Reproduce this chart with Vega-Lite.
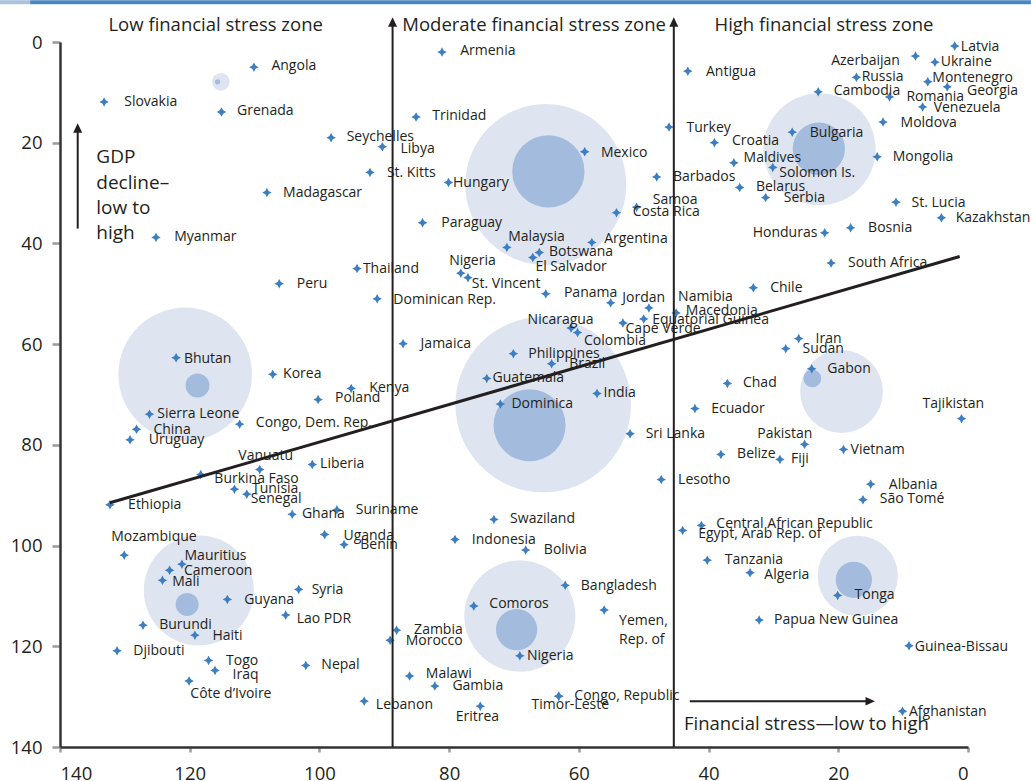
{
  "$schema": "https://vega.github.io/schema/vega-lite/v6.json",
  "width": 908,
  "height": 705,
  "autosize": {"type": "none"},
  "padding": {"left": 60, "top": 42, "right": 63, "bottom": 34},
  "background": "white",
  "config": {
    "view": {"stroke": null},
    "font": "Open Sans",
    "axisX": {"domainColor": "#333333", "domainWidth": 2.5, "tickColor": "#9a9a9a", "tickWidth": 2.5, "tickSize": 5, "labelFontSize": 18.5, "labelPadding": 12, "labelColor": "#231f20", "labelFont": "Open Sans", "grid": false},
    "axisY": {"domainColor": "#333333", "domainWidth": 2.5, "tickColor": "#9a9a9a", "tickWidth": 2.5, "tickSize": 8, "labelFontSize": 18.5, "labelPadding": 10, "labelColor": "#231f20", "labelFont": "Open Sans", "grid": false}
  },
  "datasets": {
    "band": [
      {"part": "light", "x1": 149.3, "x2": 144.6, "y1": -8.3, "y2": -7.5},
      {"part": "dark", "x1": 144.6, "x2": -9.7, "y1": -8.3, "y2": -7.5}
    ],
    "bubbles": [
      {"group": "Angola", "kind": "outer", "x": 115.2, "y": 7.9, "r": 1.54},
      {"group": "Mexico", "kind": "outer", "x": 65.1, "y": 28.3, "r": 14.0},
      {"group": "Bulgaria", "kind": "outer", "x": 22.9, "y": 21.3, "r": 9.76},
      {"group": "Bhutan", "kind": "outer", "x": 120.7, "y": 66.0, "r": 11.61},
      {"group": "Dominica", "kind": "outer", "x": 65.5, "y": 72.0, "r": 15.26},
      {"group": "Gabon", "kind": "outer", "x": 19.5, "y": 69.4, "r": 7.2},
      {"group": "Mali", "kind": "outer", "x": 118.6, "y": 108.9, "r": 9.56},
      {"group": "Comoros", "kind": "outer", "x": 69.1, "y": 114.0, "r": 9.66},
      {"group": "Tonga", "kind": "outer", "x": 17.0, "y": 106.0, "r": 6.98},
      {"group": "Angola", "kind": "inner", "x": 115.7, "y": 7.9, "r": 0.46},
      {"group": "Mexico", "kind": "inner", "x": 64.7, "y": 25.7, "r": 6.29},
      {"group": "Bulgaria", "kind": "inner", "x": 23.0, "y": 21.2, "r": 4.55},
      {"group": "Bhutan", "kind": "inner", "x": 118.8, "y": 68.2, "r": 2.08},
      {"group": "Dominica", "kind": "inner", "x": 67.6, "y": 76.1, "r": 6.27},
      {"group": "Gabon", "kind": "inner", "x": 24.0, "y": 66.8, "r": 1.54},
      {"group": "Mali", "kind": "inner", "x": 120.4, "y": 111.7, "r": 2.0},
      {"group": "Comoros", "kind": "inner", "x": 69.6, "y": 116.7, "r": 3.59},
      {"group": "Tonga", "kind": "inner", "x": 17.6, "y": 106.8, "r": 3.16}
    ],
    "lines": [
      {"name": "trend", "x": 132.3, "y": 91.5, "x2": 1.28, "y2": 42.6, "w": "thick"},
      {"name": "moderate", "x": 88.72, "y": 140, "x2": 88.72, "y2": -3.95, "w": "thin"},
      {"name": "high", "x": 45.36, "y": 140, "x2": 45.36, "y2": -3.95, "w": "thin"},
      {"name": "gdp", "x": 137.27, "y": 37.05, "x2": 137.27, "y2": 17.1, "w": "thin"},
      {"name": "stress", "x": 42.9, "y": 130.92, "x2": 15.07, "y2": 130.92, "w": "thin"}
    ],
    "heads": [
      {"name": "moderate", "x": 88.72, "y": -3.95, "dir": "up"},
      {"name": "high", "x": 45.36, "y": -3.95, "dir": "up"},
      {"name": "gdp", "x": 137.27, "y": 17.1, "dir": "up"},
      {"name": "stress", "x": 15.07, "y": 130.92, "dir": "right"}
    ],
    "notes": [
      {"text": "Low financial stress zone", "x": 116.0, "y": -2.2, "align": "center"},
      {"text": "Moderate financial stress zone", "x": 66.9, "y": -2.2, "align": "center"},
      {"text": "High financial stress zone", "x": 22.2, "y": -2.2, "align": "center"},
      {"text": "Financial stress—low to high", "x": 43.8, "y": 136.7, "align": "left"}
    ],
    "gdp": [
      {"text": "GDP\ndecline–\nlow to\nhigh", "x": 134.4, "y": 24.1}
    ],
    "countries": [
      {"c": "Angola", "x": 110.1, "y": 5.0, "lx": 107.4, "ly": 4.8},
      {"c": "Slovakia", "x": 133.2, "y": 11.9, "lx": 130.1, "ly": 11.9},
      {"c": "Grenada", "x": 115.1, "y": 13.9, "lx": 112.7, "ly": 13.8},
      {"c": "Seychelles", "x": 98.2, "y": 19.0, "lx": 95.8, "ly": 18.9},
      {"c": "Libya", "x": 90.3, "y": 20.8, "lx": 87.5, "ly": 21.2},
      {"c": "Madagascar", "x": 108.1, "y": 29.9, "lx": 105.6, "ly": 29.9},
      {"c": "St. Kitts", "x": 92.2, "y": 25.9, "lx": 89.6, "ly": 26.0},
      {"c": "Myanmar", "x": 125.2, "y": 38.8, "lx": 122.4, "ly": 38.8},
      {"c": "Armenia", "x": 81.1, "y": 2.0, "lx": 78.3, "ly": 1.8},
      {"c": "Trinidad", "x": 85.1, "y": 14.9, "lx": 82.6, "ly": 14.7},
      {"c": "Hungary", "x": 80.1, "y": 27.9, "lx": 79.4, "ly": 28.0},
      {"c": "Paraguay", "x": 84.1, "y": 35.9, "lx": 81.2, "ly": 35.9},
      {"c": "Mexico", "x": 59.1, "y": 21.8, "lx": 56.6, "ly": 22.0},
      {"c": "Malaysia", "x": 71.1, "y": 40.8, "lx": 70.9, "ly": 38.8},
      {"c": "Botswana", "x": 66.1, "y": 41.8, "lx": 64.6, "ly": 41.8},
      {"c": "El Salvador", "x": 67.1, "y": 42.8, "lx": 66.7, "ly": 44.7},
      {"c": "Argentina", "x": 58.0, "y": 39.8, "lx": 56.1, "ly": 39.2},
      {"c": "Costa Rica", "x": 54.2, "y": 33.9, "lx": 51.7, "ly": 33.8},
      {"c": "Samoa", "x": 51.1, "y": 32.8, "lx": 48.6, "ly": 31.3},
      {"c": "Barbados", "x": 48.0, "y": 26.8, "lx": 45.5, "ly": 26.8},
      {"c": "Turkey", "x": 46.1, "y": 16.9, "lx": 43.4, "ly": 17.0},
      {"c": "Antigua", "x": 43.2, "y": 5.8, "lx": 40.4, "ly": 6.0},
      {"c": "Latvia", "x": 2.05, "y": 0.8, "lx": 1.1, "ly": 1.0},
      {"c": "Azerbaijan", "x": 8.1, "y": 2.8, "lx": 21.1, "ly": 3.8},
      {"c": "Ukraine", "x": 5.1, "y": 4.0, "lx": 4.2, "ly": 4.0},
      {"c": "Russia", "x": 17.2, "y": 7.0, "lx": 16.4, "ly": 6.9},
      {"c": "Montenegro", "x": 6.2, "y": 7.9, "lx": 5.5, "ly": 7.1},
      {"c": "Georgia", "x": 3.2, "y": 8.9, "lx": 0.15, "ly": 9.7},
      {"c": "Cambodia", "x": 23.1, "y": 9.9, "lx": 20.7, "ly": 9.7},
      {"c": "Romania", "x": 12.1, "y": 10.9, "lx": 9.5, "ly": 11.0},
      {"c": "Venezuela", "x": 7.0, "y": 12.9, "lx": 5.3, "ly": 13.1},
      {"c": "Moldova", "x": 13.1, "y": 15.9, "lx": 10.4, "ly": 16.0},
      {"c": "Bulgaria", "x": 27.1, "y": 17.9, "lx": 24.4, "ly": 18.0},
      {"c": "Croatia", "x": 39.1, "y": 20.0, "lx": 36.4, "ly": 19.7},
      {"c": "Mongolia", "x": 14.0, "y": 22.8, "lx": 11.6, "ly": 22.8},
      {"c": "Maldives", "x": 36.1, "y": 24.0, "lx": 34.6, "ly": 23.0},
      {"c": "Solomon Is.", "x": 30.1, "y": 24.9, "lx": 29.1, "ly": 26.1},
      {"c": "Belarus", "x": 35.2, "y": 28.9, "lx": 32.7, "ly": 28.8},
      {"c": "Serbia", "x": 31.2, "y": 30.9, "lx": 28.4, "ly": 31.0},
      {"c": "St. Lucia", "x": 11.1, "y": 31.8, "lx": 8.7, "ly": 32.0},
      {"c": "Kazakhstan", "x": 4.1, "y": 34.9, "lx": 1.9, "ly": 34.9},
      {"c": "Bosnia", "x": 18.1, "y": 36.9, "lx": 15.4, "ly": 36.9},
      {"c": "Honduras", "x": 22.1, "y": 37.9, "lx": 33.2, "ly": 37.9},
      {"c": "Peru", "x": 106.2, "y": 48.0, "lx": 103.5, "ly": 48.0},
      {"c": "Bhutan", "x": 122.1, "y": 62.7, "lx": 120.9, "ly": 63.0},
      {"c": "Korea", "x": 107.2, "y": 66.0, "lx": 105.6, "ly": 66.0},
      {"c": "Poland", "x": 100.2, "y": 71.0, "lx": 97.6, "ly": 70.6},
      {"c": "Kenya", "x": 95.1, "y": 68.8, "lx": 92.3, "ly": 68.8},
      {"c": "Sierra Leone", "x": 126.2, "y": 73.9, "lx": 125.0, "ly": 73.9},
      {"c": "Congo, Dem. Rep.", "x": 112.3, "y": 75.9, "lx": 109.8, "ly": 75.7},
      {"c": "China", "x": 128.2, "y": 76.9, "lx": 125.6, "ly": 77.1},
      {"c": "Uruguay", "x": 129.2, "y": 79.0, "lx": 126.3, "ly": 79.0},
      {"c": "Vanuatu", "x": 109.2, "y": 84.9, "lx": 112.5, "ly": 82.3},
      {"c": "Liberia", "x": 101.1, "y": 83.9, "lx": 99.9, "ly": 83.9},
      {"c": "Burkina Faso", "x": 118.3, "y": 85.9, "lx": 116.2, "ly": 86.7},
      {"c": "Tunisia", "x": 113.1, "y": 88.8, "lx": 110.4, "ly": 88.7},
      {"c": "Senegal", "x": 111.2, "y": 89.8, "lx": 110.6, "ly": 90.7},
      {"c": "Ethiopia", "x": 132.3, "y": 91.9, "lx": 129.5, "ly": 92.0},
      {"c": "Thailand", "x": 94.2, "y": 45.0, "lx": 93.3, "ly": 45.0},
      {"c": "Nigeria", "x": 78.2, "y": 45.9, "lx": 80.0, "ly": 43.5},
      {"c": "St. Vincent", "x": 77.1, "y": 46.8, "lx": 76.5, "ly": 48.1},
      {"c": "Panama", "x": 65.1, "y": 50.0, "lx": 62.3, "ly": 49.8},
      {"c": "Dominican Rep.", "x": 91.1, "y": 51.0, "lx": 88.6, "ly": 51.2},
      {"c": "Jordan", "x": 55.1, "y": 51.8, "lx": 53.3, "ly": 50.8},
      {"c": "Namibia", "x": 49.2, "y": 52.8, "lx": 44.7, "ly": 50.6},
      {"c": "Macedonia", "x": 45.0, "y": 53.8, "lx": 43.5, "ly": 53.5},
      {"c": "Equatorial Guinea", "x": 50.0, "y": 55.0, "lx": 48.7, "ly": 55.3},
      {"c": "Cape Verde", "x": 53.2, "y": 55.8, "lx": 52.8, "ly": 56.9},
      {"c": "Nicaragua", "x": 61.2, "y": 56.8, "lx": 67.9, "ly": 55.3},
      {"c": "Colombia", "x": 60.2, "y": 57.7, "lx": 59.2, "ly": 59.4},
      {"c": "Jamaica", "x": 87.1, "y": 59.9, "lx": 84.4, "ly": 59.9},
      {"c": "Philippines", "x": 70.1, "y": 61.9, "lx": 67.8, "ly": 62.0},
      {"c": "Brazil", "x": 64.2, "y": 63.9, "lx": 61.5, "ly": 63.9},
      {"c": "Guatemala", "x": 74.2, "y": 66.8, "lx": 73.3, "ly": 66.7},
      {"c": "India", "x": 57.2, "y": 69.8, "lx": 56.2, "ly": 69.8},
      {"c": "Dominica", "x": 72.1, "y": 71.9, "lx": 70.4, "ly": 71.9},
      {"c": "Sri Lanka", "x": 52.1, "y": 77.8, "lx": 49.7, "ly": 77.8},
      {"c": "Lesotho", "x": 47.3, "y": 86.9, "lx": 44.7, "ly": 86.9},
      {"c": "South Africa", "x": 21.1, "y": 43.9, "lx": 18.5, "ly": 43.9},
      {"c": "Chile", "x": 33.1, "y": 48.8, "lx": 30.5, "ly": 48.8},
      {"c": "Iran", "x": 26.1, "y": 58.9, "lx": 23.5, "ly": 58.9},
      {"c": "Sudan", "x": 28.1, "y": 60.9, "lx": 25.5, "ly": 60.9},
      {"c": "Gabon", "x": 24.1, "y": 64.9, "lx": 21.7, "ly": 64.9},
      {"c": "Chad", "x": 37.1, "y": 67.8, "lx": 34.7, "ly": 67.8},
      {"c": "Ecuador", "x": 42.1, "y": 72.8, "lx": 39.6, "ly": 72.9},
      {"c": "Tajikistan", "x": 1.0, "y": 74.8, "lx": 7.0, "ly": 71.9},
      {"c": "Pakistan", "x": 25.2, "y": 79.9, "lx": 32.5, "ly": 77.8},
      {"c": "Vietnam", "x": 19.2, "y": 80.9, "lx": 18.1, "ly": 81.1},
      {"c": "Belize", "x": 38.1, "y": 81.9, "lx": 35.6, "ly": 81.9},
      {"c": "Fiji", "x": 29.0, "y": 82.9, "lx": 27.3, "ly": 82.9},
      {"c": "Albania", "x": 15.0, "y": 87.8, "lx": 12.2, "ly": 88.0},
      {"c": "São Tomé", "x": 16.2, "y": 90.9, "lx": 13.6, "ly": 90.7},
      {"c": "Ghana", "x": 104.2, "y": 93.8, "lx": 102.7, "ly": 93.8},
      {"c": "Suriname", "x": 97.3, "y": 92.9, "lx": 94.4, "ly": 93.0},
      {"c": "Uganda", "x": 99.2, "y": 97.8, "lx": 96.3, "ly": 98.0},
      {"c": "Benin", "x": 96.2, "y": 99.8, "lx": 93.7, "ly": 99.8},
      {"c": "Mozambique", "x": 130.1, "y": 101.9, "lx": 132.1, "ly": 98.3},
      {"c": "Mauritius", "x": 121.2, "y": 103.7, "lx": 120.8, "ly": 102.1},
      {"c": "Cameroon", "x": 123.1, "y": 104.9, "lx": 120.9, "ly": 105.1},
      {"c": "Mali", "x": 124.2, "y": 106.9, "lx": 122.7, "ly": 107.2},
      {"c": "Syria", "x": 103.2, "y": 108.7, "lx": 101.2, "ly": 108.9},
      {"c": "Guyana", "x": 114.2, "y": 110.7, "lx": 111.6, "ly": 110.9},
      {"c": "Lao PDR", "x": 105.2, "y": 113.8, "lx": 103.5, "ly": 114.6},
      {"c": "Burundi", "x": 127.2, "y": 115.8, "lx": 124.7, "ly": 115.8},
      {"c": "Haiti", "x": 119.2, "y": 117.8, "lx": 116.5, "ly": 118.0},
      {"c": "Djibouti", "x": 131.2, "y": 120.9, "lx": 128.7, "ly": 120.9},
      {"c": "Togo", "x": 117.1, "y": 122.8, "lx": 114.4, "ly": 123.0},
      {"c": "Nepal", "x": 102.1, "y": 123.8, "lx": 99.7, "ly": 123.8},
      {"c": "Iraq", "x": 116.1, "y": 124.8, "lx": 113.4, "ly": 125.8},
      {"c": "Côte d’Ivoire", "x": 120.1, "y": 126.9, "lx": 119.9, "ly": 129.5},
      {"c": "Swaziland", "x": 73.1, "y": 94.8, "lx": 70.6, "ly": 94.8},
      {"c": "Indonesia", "x": 79.1, "y": 98.8, "lx": 76.5, "ly": 98.9},
      {"c": "Bolivia", "x": 68.2, "y": 100.9, "lx": 65.4, "ly": 100.8},
      {"c": "Bangladesh", "x": 62.1, "y": 107.9, "lx": 59.7, "ly": 108.1},
      {"c": "Comoros", "x": 76.2, "y": 112.0, "lx": 73.8, "ly": 111.7},
      {"c": "Yemen,\nRep. of", "x": 56.1, "y": 112.8, "lx": 53.8, "ly": 114.9},
      {"c": "Zambia", "x": 88.1, "y": 116.8, "lx": 85.4, "ly": 116.8},
      {"c": "Morocco", "x": 89.1, "y": 118.8, "lx": 86.7, "ly": 118.9},
      {"c": "Nigeria", "x": 69.1, "y": 121.9, "lx": 68.0, "ly": 121.9},
      {"c": "Malawi", "x": 86.1, "y": 125.9, "lx": 83.6, "ly": 125.6},
      {"c": "Gambia", "x": 82.2, "y": 127.9, "lx": 79.5, "ly": 127.9},
      {"c": "Congo, Republic", "x": 63.1, "y": 129.9, "lx": 60.7, "ly": 129.9},
      {"c": "Timor-Leste", "x": 63.1, "y": 129.9, "lx": 67.3, "ly": 131.7},
      {"c": "Lebanon", "x": 93.1, "y": 130.9, "lx": 91.3, "ly": 131.7},
      {"c": "Eritrea", "x": 75.2, "y": 131.9, "lx": 79.0, "ly": 134.0},
      {"c": "Central African Republic", "x": 41.1, "y": 96.0, "lx": 38.8, "ly": 95.8},
      {"c": "Egypt, Arab Rep. of", "x": 44.0, "y": 97.0, "lx": 41.6, "ly": 97.8},
      {"c": "Tanzania", "x": 40.2, "y": 102.9, "lx": 37.5, "ly": 102.9},
      {"c": "Algeria", "x": 33.6, "y": 105.4, "lx": 31.4, "ly": 105.9},
      {"c": "Tonga", "x": 20.1, "y": 109.9, "lx": 17.5, "ly": 109.9},
      {"c": "Papua New Guinea", "x": 32.2, "y": 114.8, "lx": 29.9, "ly": 114.7},
      {"c": "Guinea-Bissau", "x": 9.1, "y": 119.9, "lx": 8.2, "ly": 120.1},
      {"c": "Afghanistan", "x": 10.1, "y": 132.9, "lx": 9.1, "ly": 133.0}
    ]
  },
  "layer": [
    {
      "data": {"name": "band"},
      "mark": {"type": "rect"},
      "encoding": {
        "x": {"field": "x1", "type": "quantitative", "title": null, "scale": {"domain": [0, 140], "reverse": true, "nice": false, "zero": false}, "axis": {"values": [0, 20, 40, 60, 80, 100, 120, 140], "title": null}},
        "x2": {"field": "x2"},
        "y": {"field": "y1", "type": "quantitative", "title": null, "scale": {"domain": [0, 140], "reverse": true, "nice": false, "zero": false}, "axis": {"values": [0, 20, 40, 60, 80, 100, 120, 140], "title": null}},
        "y2": {"field": "y2"},
        "color": {"field": "part", "type": "nominal", "scale": {"domain": ["light", "dark", "outer", "inner"], "range": ["#a9c2de", "#4a86c1", "#dee4f0", "#a3bcdd"]}, "legend": null}
      }
    },
    {
      "data": {"name": "bubbles"},
      "mark": {"type": "point", "shape": "circle", "filled": true, "opacity": 1, "strokeWidth": 0},
      "encoding": {
        "x": {"field": "x", "type": "quantitative", "title": null},
        "y": {"field": "y", "type": "quantitative", "title": null},
        "size": {"field": "r", "type": "quantitative", "scale": {"type": "pow", "exponent": 2, "domain": [0, 10], "range": [0, 13224]}, "legend": null},
        "color": {"field": "kind", "type": "nominal", "legend": null}
      }
    },
    {
      "data": {"name": "countries"},
      "mark": {"type": "point", "shape": "M0,-1L0.35,-0.35L1,0L0.35,0.35L0,1L-0.35,0.35L-1,0L-0.35,-0.35Z", "filled": true, "size": 90, "color": "#3d7ec1", "opacity": 1, "strokeWidth": 0},
      "encoding": {
        "x": {"field": "x", "type": "quantitative", "title": null},
        "y": {"field": "y", "type": "quantitative", "title": null}
      }
    },
    {
      "data": {"name": "countries"},
      "mark": {"type": "text", "align": "left", "baseline": "middle", "font": "Open Sans", "fontSize": 14, "color": "#231f20", "lineBreak": "\n", "lineHeight": 19},
      "encoding": {
        "x": {"field": "lx", "type": "quantitative", "title": null},
        "y": {"field": "ly", "type": "quantitative", "title": null},
        "text": {"field": "c"}
      }
    },
    {
      "data": {"name": "lines"},
      "transform": [{"filter": "datum.w === 'thin'"}],
      "mark": {"type": "rule", "color": "#231f20", "strokeWidth": 2},
      "encoding": {
        "x": {"field": "x", "type": "quantitative", "title": null},
        "y": {"field": "y", "type": "quantitative", "title": null},
        "x2": {"field": "x2"},
        "y2": {"field": "y2"}
      }
    },
    {
      "data": {"name": "lines"},
      "transform": [{"filter": "datum.w === 'thick'"}],
      "mark": {"type": "rule", "color": "#231f20", "strokeWidth": 3},
      "encoding": {
        "x": {"field": "x", "type": "quantitative", "title": null},
        "y": {"field": "y", "type": "quantitative", "title": null},
        "x2": {"field": "x2"},
        "y2": {"field": "y2"}
      }
    },
    {
      "data": {"name": "heads"},
      "transform": [{"filter": "datum.dir === 'up'"}],
      "mark": {"type": "point", "shape": "M0,-1L0.95,1L-0.95,1Z", "filled": true, "size": 90, "color": "#231f20", "opacity": 1, "strokeWidth": 0},
      "encoding": {
        "x": {"field": "x", "type": "quantitative", "title": null},
        "y": {"field": "y", "type": "quantitative", "title": null}
      }
    },
    {
      "data": {"name": "heads"},
      "transform": [{"filter": "datum.dir === 'right'"}],
      "mark": {"type": "point", "shape": "M1,0L-1,0.9L-1,-0.9Z", "filled": true, "size": 90, "color": "#231f20", "opacity": 1, "strokeWidth": 0},
      "encoding": {
        "x": {"field": "x", "type": "quantitative", "title": null},
        "y": {"field": "y", "type": "quantitative", "title": null}
      }
    },
    {
      "data": {"name": "notes"},
      "transform": [{"filter": "datum.align === 'center'"}],
      "mark": {"type": "text", "align": "center", "baseline": "alphabetic", "font": "Open Sans", "fontSize": 18.5, "color": "#231f20"},
      "encoding": {
        "x": {"field": "x", "type": "quantitative", "title": null},
        "y": {"field": "y", "type": "quantitative", "title": null},
        "text": {"field": "text"}
      }
    },
    {
      "data": {"name": "notes"},
      "transform": [{"filter": "datum.align === 'left'"}],
      "mark": {"type": "text", "align": "left", "baseline": "alphabetic", "font": "Open Sans", "fontSize": 18.5, "color": "#231f20"},
      "encoding": {
        "x": {"field": "x", "type": "quantitative", "title": null},
        "y": {"field": "y", "type": "quantitative", "title": null},
        "text": {"field": "text"}
      }
    },
    {
      "data": {"name": "gdp"},
      "mark": {"type": "text", "align": "left", "baseline": "alphabetic", "font": "Open Sans", "fontSize": 19, "color": "#231f20", "lineBreak": "\n", "lineHeight": 25.3},
      "encoding": {
        "x": {"field": "x", "type": "quantitative", "title": null},
        "y": {"field": "y", "type": "quantitative", "title": null},
        "text": {"field": "text"}
      }
    }
  ]
}
